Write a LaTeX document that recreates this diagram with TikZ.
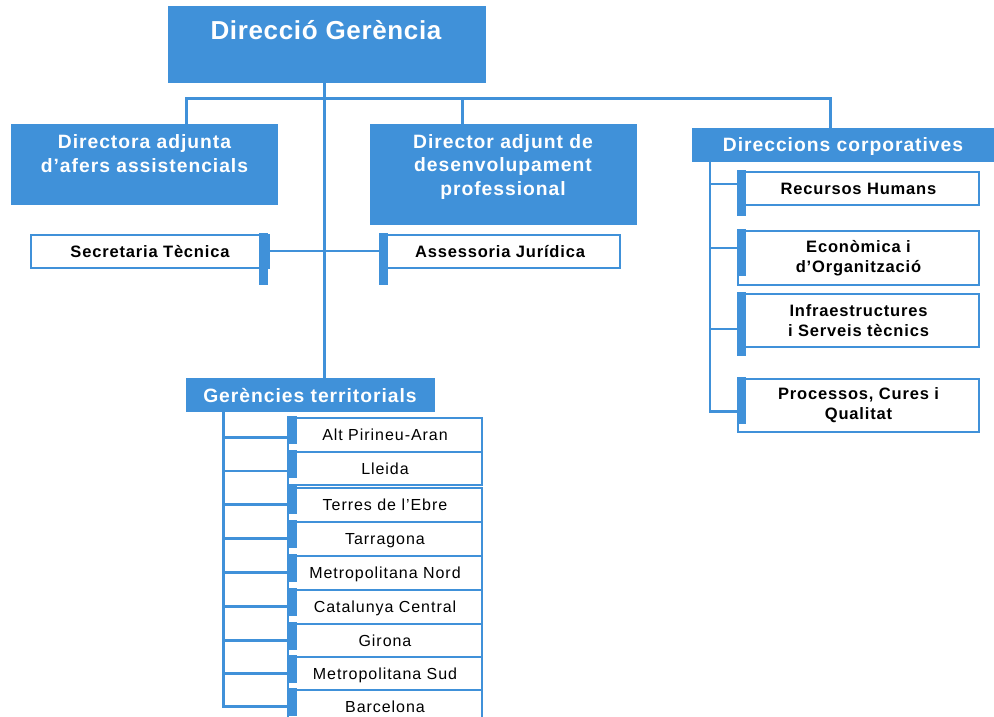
\documentclass[tikz,border=0pt]{standalone}
\usepackage{fontspec}
\setmainfont{Liberation Sans}
\newfontfamily\spc[LetterSpace=5]{Liberation Sans}
\newfontfamily\spct[LetterSpace=2.5]{Liberation Sans}
\newfontfamily\spcr[LetterSpace=6]{Liberation Sans}
\definecolor{bl}{RGB}{64,145,217}
\begin{document}
\begin{tikzpicture}[x=1pt,y=-1pt,
  bbox/.style={fill=bl,draw=none,inner sep=0pt,anchor=north west},
  wbox/.style={fill=white,draw=bl,line width=2pt,inner sep=0pt,anchor=north west,
     font=\fontsize{16.5}{20}\selectfont\spc\bfseries,text=black,align=center},
  onel/.style={text height=11.8pt,text depth=0pt},
  gbox/.style={fill=white,draw=bl,line width=2pt,inner sep=0pt,anchor=north west,
     minimum width=194pt,minimum height=33.5pt,
     font=\fontsize{16}{20}\selectfont\spcr,text=black,text height=11.5pt,text depth=0pt},
  barbox/.style={fill=bl,draw=none,inner sep=0pt,anchor=north west},
  wtext/.style={text=white,inner sep=0pt,anchor=base,align=center,
     font=\fontsize{19.3}{23.7}\selectfont\spc\bfseries},
  conn/.style={draw=bl,line width=2.6pt,line join=miter},
  connb/.style={draw=bl,line width=2.2pt,line join=miter}
]
\useasboundingbox (0,0) rectangle (994,717);
\clip (0,0) rectangle (994,717);

% blue header boxes
\node[bbox,minimum width=318pt,minimum height=77pt] (dg) at (168,6) {};
\node[bbox,minimum width=267pt,minimum height=81pt] (da) at (11,124) {};
\node[bbox,minimum width=267pt,minimum height=101pt] (dd) at (370,124) {};
\node[bbox,minimum width=304pt,minimum height=34pt] (dc) at (692,128) {};
\node[bbox,minimum width=249pt,minimum height=34pt] (gt) at (186,378) {};

% connectors
\draw[conn] ([xshift=-3pt]dg.south) -- ([xshift=-3pt]dg.south |- gt.north);
\draw[conn] ([xshift=41.5pt]da.north) -- ++(0,-25.5) -| ([xshift=-14pt]dc.north);
\draw[conn] ([xshift=-41.5pt]dd.north) -- ++(0,-25.5);

% white boxes
\node[wbox,onel,minimum width=238pt,minimum height=33.5pt] (st) at (30,233.5) {Secretaria Tècnica};
\node[wbox,onel,minimum width=240pt,minimum height=33.5pt] (aj) at (379,233.5) {Assessoria Jurídica};
\draw[connb] (st.east) -- (aj.west);

\node[wbox,onel,minimum width=241pt,minimum height=33pt] (rh) at (737,171) {Recursos Humans};
\node[wbox,minimum width=241pt,minimum height=54pt] (ec) at (737,230) {Econòmica i\\d’Organització};
\node[wbox,minimum width=241pt,minimum height=53pt] (is) at (737,293) {Infraestructures\\i Serveis tècnics};
\node[wbox,minimum width=241pt,minimum height=53pt] (pq) at (737,377.5) {Processos, Cures i\\Qualitat};

\draw[connb] ([xshift=18pt]dc.south west) |- ([yshift=-6.5pt]pq.west);
\draw[connb] ([yshift=4.8pt]rh.west) -- ++(-27,0);
\draw[connb] ([yshift=10.3pt]ec.west) -- ++(-27,0);
\draw[connb] ([yshift=-8.5pt]is.west) -- ++(-27,0);

% territorial boxes
\node[gbox] (g1) at (287,417) {Alt Pirineu-Aran};
\node[gbox] (g2) at (287,450.5) {Lleida};
\node[gbox] (g3) at (287,487) {Terres de l’Ebre};
\node[gbox] (g4) at (287,521) {Tarragona};
\node[gbox] (g5) at (287,555) {Metropolitana Nord};
\node[gbox] (g6) at (287,589) {Catalunya Central};
\node[gbox] (g7) at (287,622.5) {Girona};
\node[gbox] (g8) at (287,656) {Metropolitana Sud};
\node[gbox] (g9) at (287,689) {Barcelona};

\draw[conn] ([xshift=37.5pt]gt.south west) |- (g9.west);
\draw[conn] ([yshift=-2.6pt]g1.west) -- ++(-63.5,0);
\draw[conn] ([yshift=-2.6pt]g2.west) -- ++(-63.5,0);
\foreach \g in {g3,g4,g5,g6,g7,g8}
  \draw[conn] (\g.west) -- ++(-63.5,0);

% bars
\node[barbox,minimum width=9pt,minimum height=52pt] (stbar) at (259,232.5) {};
\node[barbox,minimum width=9pt,minimum height=52pt] (ajbar) at (379,232.5) {};
\node[barbox,minimum width=9pt,minimum height=46pt] (rhbar) at (737,170) {};
\node[barbox,minimum width=9pt,minimum height=47pt] (ecbar) at (737,229) {};
\node[barbox,minimum width=9pt,minimum height=64pt] (isbar) at (737,292) {};
\node[barbox,minimum width=9pt,minimum height=47pt] (pqbar) at (737,376.5) {};
\foreach \g in {g1,g2,g3,g4,g5,g6,g7,g8,g9}
  \node[barbox,minimum width=10pt,minimum height=28pt] (\g bar) at ([yshift=1pt]\g.north west) {};

% texts in blue boxes (multi-line: base = last line)
\node[wtext,font=\fontsize{26}{30}\selectfont\spct\bfseries] (dgt) at (326,39.3) {Direcció Gerència};
\node[wtext] (dat) at (144.5,172.2) {Directora adjunta\\d’afers assistencials};
\node[wtext] (ddt) at (503,195.6) {Director adjunt de\\desenvolupament\\professional};
\node[wtext] (dct) at (843,151.7) {Direccions corporatives};
\node[wtext] (gtt) at (310,402.7) {Gerències territorials};
\end{tikzpicture}
\end{document}
